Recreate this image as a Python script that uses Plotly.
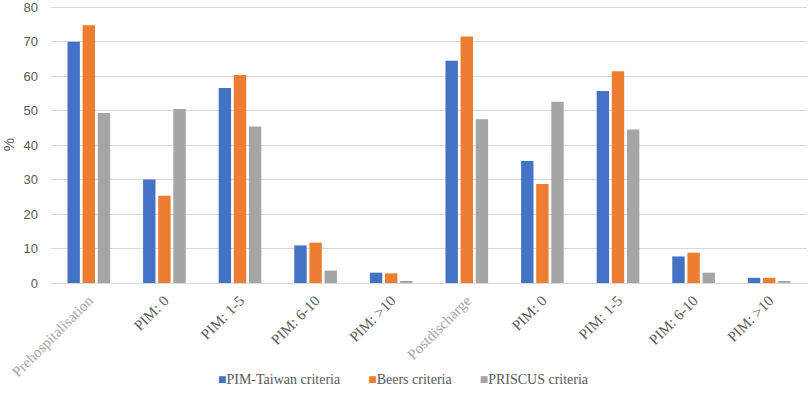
import plotly.graph_objects as go

categories = ["Prehospitalisation", "PIM: 0", "PIM: 1-5", "PIM: 6-10", "PIM: >10",
              "Postdischarge", "PIM: 0", "PIM: 1-5", "PIM: 6-10", "PIM: >10"]
header_labels = {"Prehospitalisation", "Postdischarge"}

pim_taiwan = [70.0, 30.0, 56.6, 10.9, 3.0, 64.5, 35.4, 55.7, 7.7, 1.5]
beers = [74.8, 25.3, 60.3, 11.7, 2.8, 71.5, 28.7, 61.4, 8.8, 1.5]
priscus = [49.3, 50.5, 45.4, 3.6, 0.6, 47.5, 52.6, 44.5, 3.0, 0.4]

series_names = ["PIM-Taiwan criteria", "Beers criteria", "PRISCUS criteria"]
series_colors = ["#4472C4", "#ED7D31", "#A5A5A5"]

y_ticks = [0, 10, 20, 30, 40, 50, 60, 70, 80]

positions = list(range(len(categories)))
ticktext = [
    f"<span style='color:#a6a6a6'>{c}</span>" if c in header_labels else c
    for c in categories
]

fig = go.Figure()
for name, vals, col in zip(series_names, [pim_taiwan, beers, priscus], series_colors):
    fig.add_trace(go.Bar(x=positions, y=vals, name=name, marker_color=col,
                         marker_line_width=0, showlegend=False))

# compact legend (square glyph right next to label, like the original)
legend_text = "        ".join(
    f"<span style='color:{c}'>■</span>{n}" for n, c in zip(series_names, series_colors)
)
fig.add_annotation(text=legend_text, xref="paper", yref="paper", x=0.466, y=-0.35,
                   xanchor="center", yanchor="middle", showarrow=False,
                   font=dict(family="Liberation Serif", size=14, color="#595959"))

fig.update_layout(
    width=809, height=394,
    margin=dict(l=51, r=2, t=6, b=111, autoexpand=False),
    plot_bgcolor="white", paper_bgcolor="white",
    barmode="group", bargap=0.4, bargroupgap=0.18,
    font=dict(family="Liberation Serif", color="#595959"),
    showlegend=False,
    xaxis=dict(tickmode="array", tickvals=positions, ticktext=ticktext,
               tickangle=-45, range=[-0.5, len(categories) - 0.5], automargin=False,
               tickfont=dict(family="Liberation Serif", size=15, color="#595959"),
               showgrid=False, showline=True, linecolor="#d9d9d9", ticks="",
               ticklabelstandoff=2, ticklabeloverflow="allow"),
    yaxis=dict(range=[0, 80.35], tickvals=y_ticks, showgrid=True, gridcolor="#d9d9d9",
               zeroline=False, automargin=False, ticklabelstandoff=12,
               ticklabeloverflow="allow",
               tickfont=dict(family="Liberation Sans", size=13, color="#595959"),
               title=dict(text="%", font=dict(family="Liberation Sans", size=15, color="#595959"),
                          standoff=8)),
)

fig.write_html("out.html", config={"displayModeBar": False},
               post_script="document.body.style.margin='0';")
